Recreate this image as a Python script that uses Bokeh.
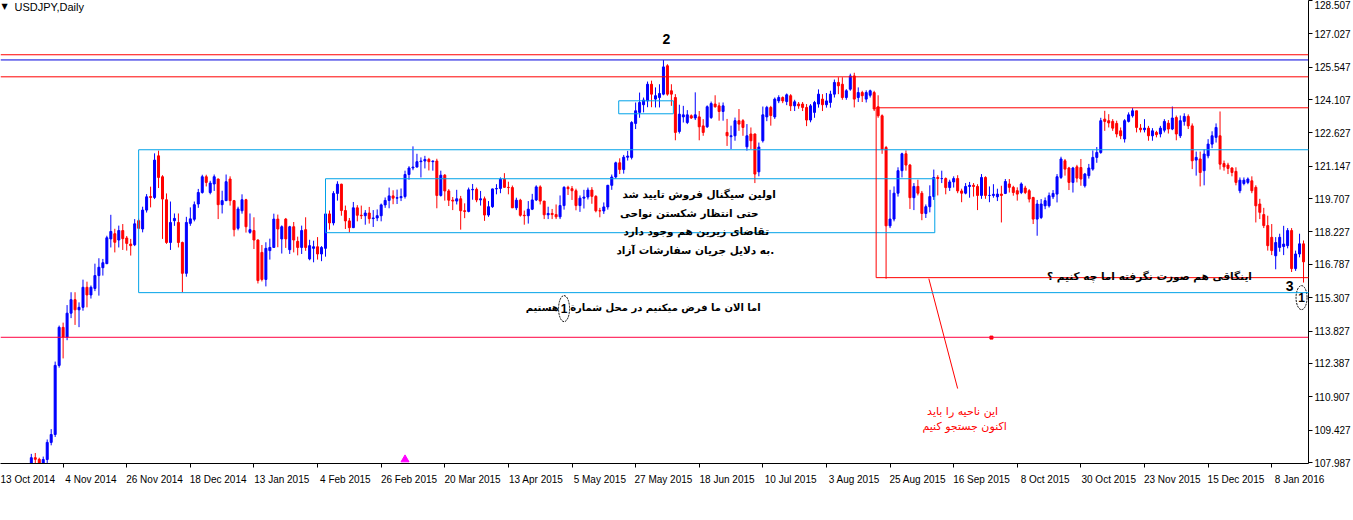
import numpy as np
from bokeh.plotting import figure
from bokeh.models import (ColumnDataSource, Range1d, FixedTicker, PrintfTickFormatter,
                          LinearAxis, Span, Label, BoxAnnotation)
from bokeh.embed import file_html
from bokeh.resources import INLINE

# ---------------- data (USDJPY daily) ----------------
symbol_title = "USDJPY,Daily"
first_bar = 5  # bar index of the first candle; bar 0 = 13 Oct 2014

opens = [
    # Oct 2014
    106.88, 106.93, 106.98, 107.13, 108.20, 108.13, 107.80, 108.12, 108.88, 109.23,
    # Nov 2014
    112.30, 113.99, 113.56, 114.62, 115.22, 114.77, 114.88, 115.77, 115.43, 115.72,
    116.29, 116.64, 116.82, 117.92, 118.15, 117.87, 118.29, 117.96, 117.69, 117.66,
    # Dec 2014
    118.73, 118.36, 119.20, 119.80, 119.76, 121.61, 120.68, 119.66, 117.76, 118.73,
    118.65, 117.76, 116.39, 118.61, 118.79, 119.47, 119.98, 120.68, 119.98, 120.36,
    120.58, 119.44,
    # Jan 2015
    119.62, 120.58, 119.62, 118.39, 119.17, 119.66, 118.21, 118.29, 117.87, 117.32,
    116.12, 117.40, 117.54, 118.80, 117.92, 118.80, 117.44, 118.46, 117.81, 117.54,
    118.33,
    # Feb 2015
    117.03, 117.50, 117.57, 117.25, 117.50, 119.03, 118.63, 119.94, 120.35, 119.18,
    118.72, 118.42, 119.30, 118.97, 118.95, 119.07, 118.82, 118.85, 118.95, 119.43,
    # Mar 2015
    119.63, 119.83, 119.73, 119.75, 119.80, 120.78, 121.07, 121.11, 121.35, 121.38,
    121.45, 121.35, 121.38, 119.85, 120.75, 120.05, 119.64, 119.60, 119.70, 119.17,
    119.14, 120.10,
    # Apr 2015
    120.12, 119.65, 119.70, 118.98, 119.35, 120.14, 120.16, 120.57, 120.21, 120.20,
    119.30, 119.64, 118.97, 118.95, 119.24, 119.65, 120.23, 119.60, 118.99, 119.05,
    119.00, 118.90,
    # May 2015
    119.40, 120.21, 120.15, 120.06, 119.40, 119.73, 119.78, 120.09, 119.81, 119.17,
    119.16, 119.34, 120.30, 120.67, 121.30, 121.00, 121.55, 121.54, 123.05, 123.54,
    123.88,
    # Jun 2015
    124.05, 124.79, 124.13, 124.20, 124.35, 125.61, 124.50, 124.20, 122.69, 123.34,
    123.09, 123.39, 123.29, 123.34, 122.94, 122.90, 123.31, 123.91, 123.83, 123.58,
    122.65, 122.46,
    # Jul 2015
    122.50, 123.17, 123.17, 122.01, 122.58, 122.58, 120.90, 122.28, 123.34, 123.76,
    123.34, 124.05, 124.20, 124.02, 124.28, 123.83, 123.91, 123.91, 123.76, 123.20,
    123.54, 123.91, 124.13,
    # Aug 2015
    123.88, 123.98, 124.35, 124.87, 124.79, 124.20, 124.57, 125.16, 124.20, 124.42,
    124.13, 124.30, 124.42, 123.79, 123.39, 121.98, 118.50, 118.80, 119.95, 120.95,
    121.70,
    # Sep 2015
    121.20, 119.75, 120.25, 119.95, 119.05, 119.35, 119.80, 120.65, 120.60, 120.60,
    120.20, 120.45, 120.60, 120.05, 119.95, 120.25, 120.30, 120.25, 119.85, 120.65,
    119.85, 119.85,
    # Oct 2015
    119.79, 119.91, 119.94, 120.36, 120.21, 120.06, 119.98, 120.18, 120.06, 119.76,
    118.80, 118.87, 119.39, 119.39, 119.79, 119.91, 120.65, 121.39, 121.07, 120.43,
    121.12, 121.09,
    # Nov 2015
    120.28, 120.73, 121.02, 121.54, 121.76, 123.24, 123.17, 123.14, 123.05, 122.72,
    122.36, 123.14, 123.39, 123.61, 122.84, 122.77, 122.84, 122.50, 122.65, 122.58,
    122.75,
    # Dec 2015
    123.06, 122.80, 123.31, 122.50, 123.14, 123.36, 122.94, 121.42, 121.47, 120.95,
    121.61, 122.13, 122.43, 122.50, 121.27, 121.20, 121.07, 120.92, 120.06, 120.38,
    120.43, 120.50,
    # Jan 2016
    120.21, 119.47, 119.00, 118.51, 117.99, 117.17, 117.54, 117.58, 117.62, 118.29,
    116.60, 117.25, 117.70,
]

highs = [
    107.39, 107.21, 107.39, 108.37, 108.41, 108.20, 108.25, 109.01, 109.47, 112.47,
    114.07, 114.20, 114.98, 115.55, 115.55, 115.10, 116.11, 116.02, 115.85, 116.82,
    117.06, 117.03, 118.06, 118.99, 118.37, 118.51, 118.58, 118.05, 117.92, 118.80,
    118.82, 119.35, 119.91, 120.24, 121.72, 121.84, 120.75, 119.94, 119.58, 119.05,
    119.05, 117.80, 118.90, 119.32, 119.58, 120.14, 120.77, 120.77, 120.50, 120.78,
    120.60, 120.06,
    120.78, 120.70, 119.65, 119.35, 119.90, 119.70, 119.05, 118.88, 117.90, 117.65,
    117.77, 117.93, 119.04, 119.00, 118.52, 118.85, 118.50, 118.67, 118.02, 118.51,
    118.88,
    117.88, 117.84, 118.00, 117.60, 119.20, 119.18, 120.04, 120.48, 120.37, 119.40,
    118.85, 119.56, 119.42, 119.40, 119.20, 119.34, 119.20, 119.23, 119.49, 119.76,
    120.20, 120.08, 120.11, 120.16, 120.95, 121.15, 122.03, 121.70, 121.54, 121.61,
    121.52, 121.40, 121.48, 120.95, 120.80, 120.13, 119.78, 120.10, 119.83, 119.50,
    120.20, 120.36,
    120.20, 120.05, 119.80, 119.60, 120.15, 120.35, 120.65, 120.84, 120.46, 120.29,
    119.75, 119.70, 119.18, 119.60, 119.92, 120.30, 120.30, 119.60, 119.35, 119.25,
    119.45, 119.85,
    120.26, 120.28, 120.27, 120.15, 119.85, 120.10, 120.20, 120.22, 119.86, 119.30,
    119.54, 120.32, 120.78, 121.35, 121.50, 121.65, 121.83, 123.15, 123.98, 124.42,
    124.20,
    124.91, 124.95, 124.65, 124.79, 125.86, 125.68, 124.79, 124.35, 123.88, 123.83,
    123.64, 123.45, 124.43, 123.60, 123.24, 123.85, 124.02, 124.30, 123.98, 123.98,
    123.25, 122.95,
    123.31, 123.69, 123.24, 123.02, 122.87, 122.60, 122.20, 123.80, 123.83, 123.83,
    124.20, 124.30, 124.25, 124.38, 124.35, 124.10, 124.00, 124.00, 123.91, 123.91,
    124.05, 124.56, 124.35,
    124.40, 124.50, 125.00, 125.10, 125.10, 124.57, 125.26, 125.30, 124.65, 124.50,
    124.52, 124.55, 124.50, 124.30, 123.45, 122.05, 120.10, 120.25, 121.10, 121.75,
    121.85,
    121.25, 120.40, 120.55, 120.05, 119.45, 120.30, 121.00, 120.75, 120.95, 120.65,
    120.55, 120.70, 120.75, 120.15, 120.40, 120.45, 120.40, 120.35, 120.80, 120.70,
    120.25, 120.35,
    120.15, 120.28, 120.58, 120.58, 120.28, 120.21, 120.43, 120.28, 120.13, 119.79,
    119.65, 119.69, 119.76, 119.98, 120.09, 120.80, 121.57, 121.47, 121.12, 121.12,
    121.21, 121.47,
    120.85, 121.25, 121.85, 122.00, 123.30, 123.61, 123.46, 123.24, 123.17, 122.87,
    123.24, 123.54, 123.73, 123.61, 123.02, 123.24, 122.94, 122.84, 122.72, 122.94,
    123.24,
    123.20, 123.80, 123.40, 123.40, 123.50, 123.45, 123.05, 121.80, 121.80, 121.90,
    122.35, 122.70, 123.05, 123.58, 121.40, 121.30, 121.10, 121.10, 120.65, 120.65,
    120.65, 120.70,
    120.30, 119.70, 119.30, 118.95, 118.58, 118.00, 118.15, 118.50, 118.40, 118.40,
    117.40, 118.15, 117.85,
]

lows = [
    106.58, 106.30, 106.72, 106.95, 107.93, 107.58, 107.71, 107.90, 108.75, 109.12,
    112.20, 112.61, 113.42, 114.40, 114.10, 114.00, 114.73, 114.88, 115.27, 115.60,
    115.40, 116.29, 116.80, 117.54, 117.32, 117.54, 117.43, 117.40, 117.18, 117.60,
    118.35, 118.21, 119.09, 119.32, 119.69, 120.18, 117.92, 117.70, 117.43, 118.50,
    117.54, 115.55, 116.24, 118.50, 118.70, 119.30, 119.93, 120.25, 119.90, 120.05,
    118.80, 119.05,
    119.60, 119.40, 118.03, 118.30, 119.04, 118.20, 118.15, 117.47, 115.94, 116.03,
    115.81, 117.00, 117.54, 117.55, 117.27, 117.52, 117.25, 117.32, 117.19, 117.25,
    117.39,
    116.97, 116.88, 117.00, 116.93, 117.13, 118.33, 118.52, 119.62, 118.95, 118.36,
    118.20, 118.40, 118.70, 118.80, 118.55, 118.60, 118.45, 118.71, 118.70, 119.30,
    119.28, 119.46, 119.47, 119.60, 119.71, 120.55, 120.97, 121.10, 120.65, 121.05,
    120.96, 120.95, 119.28, 119.80, 119.62, 119.38, 119.20, 119.45, 118.33, 118.84,
    119.10, 119.66,
    119.55, 119.40, 118.72, 118.90, 119.30, 119.90, 119.95, 120.20, 119.90, 119.31,
    119.20, 118.91, 118.55, 118.60, 119.20, 119.60, 119.45, 118.80, 118.80, 118.80,
    118.80, 118.80,
    119.22, 119.87, 119.65, 119.19, 119.12, 119.27, 119.67, 119.48, 119.10, 118.88,
    119.03, 119.22, 120.10, 120.60, 120.80, 120.82, 121.40, 121.45, 122.80, 123.30,
    123.54,
    123.77, 123.77, 123.76, 123.76, 124.30, 124.28, 123.83, 122.30, 122.60, 123.09,
    123.02, 123.25, 123.20, 122.30, 122.50, 122.85, 123.25, 123.75, 123.17, 123.17,
    122.05, 121.91,
    122.28, 122.72, 122.50, 121.84, 121.91, 120.40, 120.70, 122.20, 123.15, 122.95,
    123.25, 123.95, 123.95, 123.86, 123.60, 123.60, 123.70, 123.60, 122.93, 123.10,
    123.30, 123.75, 123.60,
    123.75, 123.75, 124.20, 124.35, 124.10, 124.10, 124.50, 123.76, 124.00, 124.00,
    123.98, 124.20, 123.60, 123.30, 121.70, 116.15, 118.40, 118.70, 119.80, 120.65,
    120.95,
    119.25, 119.20, 119.85, 118.75, 118.85, 119.10, 119.65, 119.85, 120.40, 119.90,
    120.05, 120.20, 119.95, 119.55, 119.90, 119.75, 119.80, 119.20, 119.70, 119.70,
    119.55, 119.75,
    119.60, 118.65, 119.91, 119.98, 119.84, 119.62, 119.91, 119.91, 119.54, 118.58,
    118.06, 118.80, 119.24, 119.31, 119.69, 119.54, 120.58, 120.73, 120.09, 119.98,
    120.43, 120.28,
    120.20, 120.60, 120.95, 121.30, 121.70, 122.72, 122.87, 122.72, 122.43, 122.35,
    122.20, 123.09, 123.31, 122.65, 122.65, 122.65, 122.28, 122.28, 122.43, 122.43,
    122.65,
    122.60, 122.75, 122.30, 122.40, 122.95, 122.80, 121.02, 120.73, 120.25, 120.30,
    121.50, 121.95, 122.20, 121.00, 120.95, 120.80, 120.70, 120.30, 119.95, 120.30,
    120.35, 119.95,
    118.65, 118.80, 118.40, 117.40, 117.20, 116.57, 117.35, 117.20, 117.50, 116.45,
    116.50, 117.10, 115.98,
]

closes = [
    106.93, 106.98, 107.13, 108.20, 108.13, 107.80, 108.12, 108.88, 109.23, 112.30,
    113.99, 113.56, 114.62, 115.22, 114.77, 114.88, 115.77, 115.43, 115.77, 116.29,
    116.66, 116.86, 117.97, 118.25, 117.77, 118.29, 117.93, 117.72, 117.62, 118.59,
    118.39, 119.20, 119.79, 119.76, 121.42, 120.65, 119.69, 117.76, 118.65, 118.83,
    117.76, 116.39, 118.65, 118.81, 119.44, 119.98, 120.68, 120.43, 120.40, 120.68,
    119.44, 119.62,
    120.46, 119.62, 118.33, 119.25, 119.66, 118.46, 118.33, 117.87, 116.07, 116.12,
    117.50, 117.54, 118.80, 118.36, 118.46, 117.92, 118.46, 117.87, 117.54, 118.29,
    117.54,
    117.62, 117.57, 117.25, 117.54, 119.03, 118.63, 119.94, 120.35, 119.18, 118.72,
    118.42, 119.30, 118.97, 118.95, 119.07, 118.82, 118.85, 118.95, 119.43, 119.63,
    119.83, 119.73, 119.75, 119.80, 120.78, 121.07, 121.11, 121.35, 121.38, 121.45,
    121.35, 121.38, 119.85, 120.75, 120.05, 119.64, 119.60, 119.70, 119.17, 119.14,
    120.10, 120.12,
    119.65, 119.70, 118.98, 119.35, 120.14, 120.16, 120.57, 120.21, 120.20, 119.30,
    119.64, 118.97, 118.95, 119.24, 119.65, 120.23, 119.60, 118.99, 119.05, 119.00,
    118.90, 119.40,
    120.21, 120.15, 120.06, 119.40, 119.73, 119.78, 120.09, 119.81, 119.17, 119.16,
    119.34, 120.30, 120.67, 121.30, 121.00, 121.55, 121.60, 123.09, 123.61, 123.98,
    124.09,
    124.79, 124.35, 124.28, 124.38, 125.56, 124.35, 124.35, 122.65, 123.46, 123.43,
    123.43, 123.29, 123.43, 122.90, 122.65, 123.79, 123.93, 123.79, 123.58, 123.83,
    122.50, 122.50,
    123.17, 123.02, 122.87, 122.50, 122.28, 120.80, 122.00, 123.43, 123.76, 123.40,
    124.13, 124.20, 124.05, 124.32, 123.83, 124.01, 123.83, 123.76, 123.20, 123.83,
    123.98, 124.35, 123.88,
    124.05, 124.35, 124.87, 124.72, 124.20, 124.50, 125.16, 124.13, 124.42, 124.28,
    124.42, 124.50, 123.69, 123.39, 121.90, 118.50, 118.80, 119.95, 120.95, 121.70,
    121.20,
    119.75, 120.25, 119.95, 119.05, 119.35, 119.80, 120.65, 120.60, 120.60, 120.20,
    120.45, 120.60, 120.05, 119.95, 120.25, 120.30, 120.25, 119.85, 120.65, 119.85,
    119.85, 119.90,
    119.91, 119.85, 120.47, 120.21, 119.98, 119.91, 120.36, 119.98, 119.69, 118.80,
    119.47, 119.47, 119.62, 119.84, 119.94, 120.68, 121.47, 121.02, 120.43, 121.07,
    120.62, 120.58,
    120.80, 121.07, 121.54, 121.76, 123.17, 123.14, 123.07, 122.84, 122.58, 122.50,
    123.17, 123.43, 123.61, 122.87, 122.77, 122.84, 122.50, 122.72, 122.55, 122.84,
    123.14,
    122.80, 123.29, 122.58, 123.17, 123.36, 122.94, 121.39, 121.54, 120.87, 121.69,
    122.13, 122.50, 122.87, 121.24, 121.12, 121.05, 120.87, 120.43, 120.53, 120.53,
    120.58, 120.06,
    119.39, 119.10, 118.51, 117.62, 117.40, 117.76, 117.99, 117.69, 118.29, 116.60,
    117.25, 117.70, 116.90,
]

tick_bars = list(range(0, 321, 16))
tick_labels = ["13 Oct 2014", "4 Nov 2014", "26 Nov 2014", "18 Dec 2014", "13 Jan 2015",
               "4 Feb 2015", "26 Feb 2015", "20 Mar 2015", "13 Apr 2015", "5 May 2015",
               "27 May 2015", "18 Jun 2015", "10 Jul 2015", "3 Aug 2015", "25 Aug 2015",
               "16 Sep 2015", "8 Oct 2015", "30 Oct 2015", "23 Nov 2015", "15 Dec 2015",
               "8 Jan 2016"]
price_ticks = [107.987, 109.427, 110.907, 112.387, 113.827, 115.307, 116.787, 118.227,
               119.707, 121.147, 122.627, 124.107, 125.547, 127.027, 128.507]

# horizontal line objects on the chart
hline_prices = [126.10, 125.869, 125.12, 113.549]
hline_colors = ["#ff0000", "#0000dd", "#ff0000", "#ff0040"]

# ---------------- helpers (pixel positions of the MT4 screenshot -> data) ----------------
def bx(px):      # screen x of the reference -> bar index
    return (px + 1) / 4.0

def py(pyx):     # screen y of the reference -> price
    return 128.493 - pyx * 0.044385

BLUE = "#0000ff"
RED = "#ff0000"
CYAN = "#00a2e8"
AR_FONT = "DejaVu Sans"
FRAME_H = 463

# ---------------- figure ----------------
p = figure(frame_width=1308, frame_height=FRAME_H,
           x_range=Range1d(0.25, 329.25), y_range=Range1d(py(463), 128.51),
           x_axis_location=None, y_axis_location=None,
           output_backend="svg", toolbar_location=None,
           min_border_left=0, min_border_top=0, min_border_right=0, min_border_bottom=0,
           background_fill_color="white", border_fill_color="white")
p.outline_line_color = None
p.grid.grid_line_color = None

# right price axis
yaxis = LinearAxis(ticker=FixedTicker(ticks=price_ticks),
                   formatter=PrintfTickFormatter(format="%.3f"),
                   major_tick_in=0, major_tick_out=4, minor_tick_line_color=None,
                   axis_line_color="black", major_tick_line_color="black",
                   major_label_text_font="Liberation Sans", major_label_text_font_size="10px",
                   major_label_text_color="black", major_label_standoff=2)
p.add_layout(yaxis, "right")

# bottom time axis: MT4 puts the label to the right of each tick mark,
# so the labels are major ticks and the tick marks are minor ticks
label_pos = [b + 7 for b in tick_bars]
xaxis = LinearAxis(ticker=FixedTicker(ticks=label_pos, minor_ticks=tick_bars),
                   major_label_overrides={lp: t for lp, t in zip(label_pos, tick_labels)},
                   axis_line_color="black", major_tick_line_color=None,
                   major_tick_in=0, major_tick_out=0,
                   minor_tick_line_color="black", minor_tick_in=0, minor_tick_out=4,
                   major_label_standoff=6, major_label_text_font="Liberation Sans",
                   major_label_text_font_size="10px", major_label_text_color="black")
p.add_layout(xaxis, "below")

# ---------------- candles ----------------
o = np.array(opens); h = np.array(highs); l = np.array(lows); c = np.array(closes)
x = np.arange(first_bar, first_bar + len(c))
colors = np.where(c >= o, BLUE, RED)
src = ColumnDataSource(dict(x=x, top=np.maximum(o, c), bottom=np.minimum(o, c),
                            hi=np.maximum(h, np.maximum(o, c)), lo=np.minimum(l, np.minimum(o, c)),
                            color=colors))
p.segment(x0="x", y0="lo", x1="x", y1="hi", source=src, line_color="color", line_width=1)
p.vbar(x="x", width=0.5, top="top", bottom="bottom", source=src,
       fill_color="color", line_color="color", line_width=1)

# ---------------- horizontal lines ----------------
for lvl, col in zip(hline_prices, hline_colors):
    p.add_layout(Span(location=lvl, dimension="width", line_color=col, line_width=1))

# ---------------- rectangles ----------------
boxes = [
    (bx(139), bx(1342), py(149), py(292), CYAN),
    (bx(327), bx(940), py(178), py(232), CYAN),
    (bx(622), bx(677), py(100), py(113), CYAN),
    (bx(881), bx(1324), py(107), py(277), RED),
]
for left, right, top, bottom, col in boxes:
    p.add_layout(BoxAnnotation(left=left, right=right, top=top, bottom=bottom,
                               fill_color=None, fill_alpha=0, line_color=col, line_width=1,
                               line_alpha=1))

# pointer line to the red note
p.segment(x0=[bx(934)], y0=[py(278)], x1=[bx(963)], y1=[py(388)], line_color=RED, line_width=1)

# small objects
p.scatter(x=[bx(407)], y=[py(459)], marker="triangle", size=8, color="#ff00ff")
p.scatter(x=[bx(997)], y=[py(337)], marker="square", size=3, color=RED)

# ellipses around the "1" marks
p.ellipse(x=[bx(1309), bx(567)], y=[py(297), py(308)], width=[11, 11], height=[24, 26],
          width_units="screen", height_units="screen", fill_color=None,
          line_color="black", line_width=1, line_dash="2 1")

# ---------------- texts ----------------
def add_text(px, pyy, text, size="12px", color="black", style="bold", align="center", font=AR_FONT):
    p.add_layout(Label(x=bx(px), y=py(pyy), text=text, text_font=font, text_font_size=size,
                       text_color=color, text_font_style=style, text_align=align,
                       text_baseline="middle"))

add_text(670, 38, "2", size="14px", font="Liberation Sans")
add_text(1297, 285, "3", size="14px", font="Liberation Sans")
add_text(1309, 297, "1", size="12px", font="Liberation Sans")
add_text(567, 308, "1", size="12px", font="Liberation Sans")

add_text(703, 193, "اولین سیگنال فروش تایید شد", size="10.5px")
add_text(693, 212, "حتی انتظار شکستن نواحی", size="10.5px")
add_text(700, 230, "تقاضای زیرین هم وجود دارد", size="10.5px")
add_text(699, 249, "به دلایل جریان سفارشات آزاد.", size="10.5px")

add_text(669, 307, "اما الان ما فرض میکنیم در محل شمارة", size="10px")
add_text(545, 307, "هستیم", size="10px")

add_text(1156, 275, "اینگاقی هم صورت نگرفته اما چه کنیم ؟", size="10.5px")

add_text(968, 411, "این ناحیه را باید", size="11px", color=RED, style="normal")
add_text(970, 426, "اکنون جستجو کنیم", size="11px", color=RED, style="normal")

# chart caption (top-left)
p.add_layout(Label(x=1, y=FRAME_H - 6, x_units="screen", y_units="screen", text="▼",
                   text_font="DejaVu Sans", text_font_size="8px", text_color="black",
                   text_baseline="middle"))
p.add_layout(Label(x=14, y=FRAME_H - 6, x_units="screen", y_units="screen", text=symbol_title,
                   text_font="Liberation Sans", text_font_size="11px", text_color="black",
                   text_baseline="middle"))

open("out.html", "w").write(file_html(p, INLINE))
